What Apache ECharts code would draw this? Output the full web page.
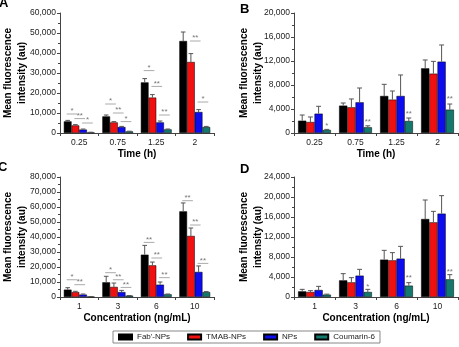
<!DOCTYPE html>
<html>
<head>
<meta charset="utf-8">
<script src="https://cdn.jsdelivr.net/npm/echarts@6/dist/echarts.min.js"></script>
<style>
  html, body { margin: 0; padding: 0; background: #fff; }
  #main { width: 459px; height: 347px; }
</style>
</head>
<body>
<div id="main"></div>
<script>
var seriesNames = ["Fab'-NPs", 'TMAB-NPs', 'NPs', 'Coumarin-6'];
var colors = ['#000000', '#f01010', '#0c0cef', '#13796f'];

var timeCats = ['0.25', '0.75', '1.25', '2'];
var concCats = ['1', '3', '6', '10'];

// A: time, cells
var aMean = [[5800, 8300, 25300, 46000], [3800, 5300, 17700, 35500], [1700, 3000, 5300, 10500], [300, 800, 1800, 3000]];
var aSd = [[500, 700, 1900, 4500], [400, 400, 1500, 4200], [300, 300, 700, 1200], [100, 100, 200, 300]];
// [category, bar, y, label, span]
var aMarks = [[0, 0, 9500, '*', 1], [0, 1, 7200, '**', 1], [0, 2, 5000, '*', 1],
  [1, 0, 14500, '*', 1], [1, 1, 10000, '**', 1], [1, 2, 5700, '*', 1],
  [2, 0, 31200, '*', 1], [2, 1, 23300, '**', 1], [2, 2, 9000, '**', 1],
  [3, 1, 46000, '**', 1], [3, 2, 15500, '*', 1]];

// B: time
var bMean = [[2050, 4560, 6170, 10780], [1830, 4280, 5560, 9890], [3220, 5110, 6170, 11890], [500, 950, 2000, 3890]];
var bSd = [[950, 440, 1940, 1390], [840, 1390, 1440, 2050], [1230, 2390, 3500, 2780], [100, 250, 500, 940]];
var bMarks = [[0, 3, 1200, '*', 0], [1, 3, 1950, '**', 0], [2, 3, 3200, '**', 0], [3, 3, 5700, '**', 0]];

// C: concentration
var cMean = [[4900, 9800, 28200, 57100], [3300, 6700, 21100, 40700], [1600, 3300, 8200, 16700], [200, 900, 1800, 3300]];
var cSd = [[1300, 4000, 6200, 5600], [500, 2600, 2200, 5300], [400, 1100, 1800, 4000], [100, 100, 200, 300]];
var cMarks = [[0, 0, 11500, '*', 1], [0, 1, 8200, '**', 1],
  [1, 0, 16200, '*', 1], [1, 1, 11500, '**', 1], [1, 2, 6400, '**', 1],
  [2, 0, 36400, '**', 1], [2, 1, 26000, '**', 1], [2, 2, 12900, '**', 1],
  [3, 0, 64200, '**', 1], [3, 1, 48000, '**', 1], [3, 2, 22400, '**', 1]];

// D: concentration
var dMean = [[1130, 3330, 7470, 15600], [1000, 2930, 7330, 14930], [1400, 4270, 7670, 16670], [470, 1000, 2270, 3530]];
var dSd = [[400, 1340, 1860, 3800], [270, 940, 1540, 2200], [730, 1260, 2460, 3600], [100, 530, 600, 940]];
var dMarks = [[1, 3, 2100, '*', 0], [2, 3, 3900, '**', 0], [3, 3, 5000, '**', 0]];

var font = "'Liberation Sans', Arial, sans-serif";

var panels = [
  { letter: 'A', cats: timeCats, mean: aMean, sd: aSd, marks: aMarks, max: 60000, interval: 10000, xName: 'Time (h)',
    grid: { left: 51, top: 13, width: 163, height: 120 }, nameGap: 31, title: { left: -1, top: -3 } },
  { letter: 'B', cats: timeCats, mean: bMean, sd: bSd, marks: bMarks, max: 20000, interval: 4000, xName: 'Time (h)',
    grid: { left: 294, top: 13, width: 164, height: 120 }, nameGap: 29, title: { left: 240, top: 3 } },
  { letter: 'C', cats: concCats, mean: cMean, sd: cSd, marks: cMarks, max: 80000, interval: 10000, xName: 'Concentration (ng/mL)',
    grid: { left: 51, top: 177, width: 163, height: 120 }, nameGap: 31, title: { left: -2, top: 161 } },
  { letter: 'D', cats: concCats, mean: dMean, sd: dSd, marks: dMarks, max: 24000, interval: 4000, xName: 'Concentration (ng/mL)',
    grid: { left: 294, top: 177, width: 164, height: 120 }, nameGap: 29, title: { left: 240, top: 163 } }
];

function barX(api, cat, bar) {
  var c = api.coord([cat, 0]);
  var bandW = api.size([1, 0])[0];
  var barW = bandW * 0.8 / 4;
  return { x: c[0] - bandW * 0.4 + barW * (bar + 0.5), w: barW };
}

function errorRender(params, api) {
  var cat = api.value(0), bar = api.value(1);
  var p = barX(api, cat, bar);
  var y0 = api.coord([cat, api.value(2)])[1];
  var y1 = api.coord([cat, api.value(2) + api.value(3)])[1];
  var cap = p.w * 0.3;
  return {
    type: 'group',
    children: [
      { type: 'line', shape: { x1: p.x, y1: y0, x2: p.x, y2: y1 }, style: { stroke: '#555', lineWidth: 1 } },
      { type: 'line', shape: { x1: p.x - cap, y1: y1, x2: p.x + cap, y2: y1 }, style: { stroke: '#555', lineWidth: 1 } }
    ]
  };
}

function markRender(params, api) {
  var cat = api.value(0), bar = api.value(1), span = api.value(4);
  var y = api.coord([cat, api.value(2)])[1];
  var a = barX(api, cat, bar);
  var text = api.value(3);
  if (!span) {
    return { type: 'text', x: a.x, y: y, style: { text: text, fill: '#777', font: '8px ' + font, align: 'center', verticalAlign: 'middle' } };
  }
  var b = barX(api, cat, bar + 1);
  var x1 = a.x - 1, x2 = b.x + 2;
  return {
    type: 'group',
    children: [
      { type: 'line', shape: { x1: x1, y1: y, x2: x2, y2: y }, style: { stroke: '#aaa', lineWidth: 1 } },
      { type: 'text', x: (x1 + x2) / 2, y: y + 1, style: { text: text, fill: '#777', font: '8px ' + font, align: 'center', verticalAlign: 'bottom' } }
    ]
  };
}

function fmt(v) {
  return String(v).replace(/\B(?=(\d{3})+(?!\d))/g, ',');
}

var grids = [], xAxes = [], yAxes = [], series = [], titles = [];
panels.forEach(function (p, i) {
  grids.push(p.grid);
  titles.push({ text: p.letter, left: p.title.left, top: p.title.top, padding: 0,
    textStyle: { fontSize: 13, fontWeight: 'bold', fontFamily: font, color: '#000' } });
  xAxes.push({
    type: 'category', gridIndex: i, data: p.cats,
    name: p.xName, nameLocation: 'middle', nameGap: 16, nameMoveOverlap: false,
    nameTextStyle: { fontSize: 10, fontWeight: 'bold', fontFamily: font, color: '#000' },
    axisLine: { lineStyle: { color: '#444', width: 1 } },
    axisTick: { show: true, length: 3, lineStyle: { color: '#444' } },
    axisLabel: { fontSize: 8.5, fontFamily: font, color: '#222', margin: 5 }
  });
  yAxes.push({
    type: 'value', gridIndex: i, min: 0, max: p.max, interval: p.interval,
    name: 'Mean fluorescence\nintensity (au)', nameLocation: 'middle', nameRotate: 90,
    nameGap: p.nameGap, nameMoveOverlap: false,
    nameTextStyle: { fontSize: 10, fontWeight: 'bold', fontFamily: font, color: '#000', lineHeight: 14 },
    axisLine: { show: true, lineStyle: { color: '#444', width: 1 } },
    axisTick: { show: true, length: 3, lineStyle: { color: '#444' } },
    minorTick: { show: true, splitNumber: 2, length: 2, lineStyle: { color: '#444' } },
    splitLine: { show: false },
    axisLabel: { fontSize: 8.5, fontFamily: font, color: '#222', margin: 4, formatter: fmt }
  });
  var errData = [];
  p.mean.forEach(function (vals, k) {
    series.push({
      name: seriesNames[k], type: 'bar', xAxisIndex: i, yAxisIndex: i,
      data: vals, barGap: '0%', barCategoryGap: '20%',
      itemStyle: { color: colors[k], borderColor: '#000', borderWidth: 0.5 }
    });
    vals.forEach(function (v, c) { errData.push([c, k, v, p.sd[k][c]]); });
  });
  series.push({
    type: 'custom', xAxisIndex: i, yAxisIndex: i, z: 3, silent: true,
    renderItem: errorRender, encode: { x: 0, y: 2 }, data: errData
  });
  series.push({
    type: 'custom', xAxisIndex: i, yAxisIndex: i, z: 4, silent: true,
    renderItem: markRender, encode: { x: 0, y: 2 }, data: p.marks
  });
});

var chart = echarts.init(document.getElementById('main'));
chart.setOption({
  animation: false,
  backgroundColor: '#fff',
  title: titles,
  grid: grids,
  xAxis: xAxes,
  yAxis: yAxes,
  legend: {
    data: seriesNames, left: 113, top: 331,
    itemWidth: 13, itemHeight: 5, itemGap: 17, icon: 'rect',
    textStyle: { fontSize: 8, fontFamily: font, color: '#222' },
    borderColor: '#888', borderWidth: 1, borderRadius: 0, padding: [2, 5]
  },
  series: series
});
</script>
</body>
</html>
